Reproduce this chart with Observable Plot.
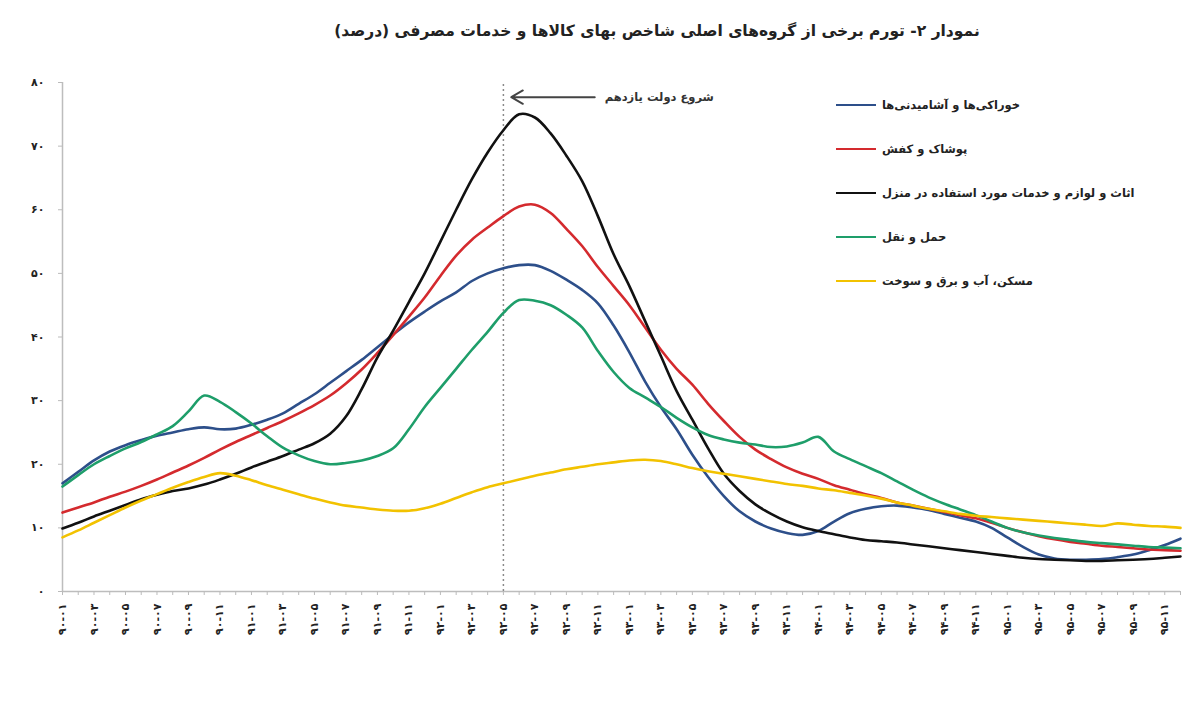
<!DOCTYPE html>
<html>
<head>
<meta charset="utf-8">
<script src="https://cdn.jsdelivr.net/npm/d3@7"></script>
<script src="https://cdn.jsdelivr.net/npm/@observablehq/plot@0.6"></script>
<style>
  html, body { margin: 0; padding: 0; background: #fff; }
  body { width: 1200px; height: 720px; position: relative; overflow: hidden; font-family: "DejaVu Sans", sans-serif; }
  #title { height: 55px; line-height: 62px; text-align: center; font-weight: bold; font-size: 15.5px; color: #222; padding-left: 114px; box-sizing: border-box; }
  #legend { position: absolute; left: 836px; top: 94px; font-size: 11.5px; font-weight: bold; color: #222; }
  .row { display: flex; align-items: center; height: 22px; margin-bottom: 22px; }
  .sw { width: 40px; height: 0; border-top: 2.5px solid; margin-right: 6px; }
  svg text { font-family: "DejaVu Sans", sans-serif; }
</style>
</head>
<body>
<div id="title" dir="rtl">نمودار ۲- تورم برخی از گروه‌های اصلی شاخص بهای کالاها و خدمات مصرفی (درصد)</div>
<div id="chart"></div>
<div id="legend"></div>
<script>
// Tick labels every two months (year-month, Persian calendar)
const tickLabels = [
  "۹۰-۰۱","۹۰-۰۳","۹۰-۰۵","۹۰-۰۷","۹۰-۰۹","۹۰-۱۱",
  "۹۱-۰۱","۹۱-۰۳","۹۱-۰۵","۹۱-۰۷","۹۱-۰۹","۹۱-۱۱",
  "۹۲-۰۱","۹۲-۰۳","۹۲-۰۵","۹۲-۰۷","۹۲-۰۹","۹۲-۱۱",
  "۹۳-۰۱","۹۳-۰۳","۹۳-۰۵","۹۳-۰۷","۹۳-۰۹","۹۳-۱۱",
  "۹۴-۰۱","۹۴-۰۳","۹۴-۰۵","۹۴-۰۷","۹۴-۰۹","۹۴-۱۱",
  "۹۵-۰۱","۹۵-۰۳","۹۵-۰۵","۹۵-۰۷","۹۵-۰۹","۹۵-۱۱"
];
const yTicks = [0, 10, 20, 30, 40, 50, 60, 70, 80];

const seriesNames = [
  "خوراکی‌ها و آشامیدنی‌ها",
  "پوشاک و کفش",
  "اثاث و لوازم و خدمات مورد استفاده در منزل",
  "حمل و نقل",
  "مسکن، آب و برق و سوخت"
];
const seriesColors = ["#2d4f8a", "#d42a2e", "#111111", "#1e9e6a", "#f2c200"];

// Monthly values, 90-01 .. 95-12 (72 months)
const food = [
  17.0,18.8,20.6,22.0,23.0,23.8,24.5,25.0,25.5,25.8,25.5,25.6,
  26.2,27.0,28.0,29.5,31.0,32.8,34.6,36.4,38.4,40.4,42.3,44.0,
  45.6,47.0,48.8,50.0,50.8,51.3,51.3,50.4,49.0,47.4,45.3,41.8,
  37.6,33.0,29.0,25.5,21.5,18.0,15.0,12.6,11.0,9.9,9.2,8.9,
  9.5,11.0,12.3,13.0,13.4,13.5,13.2,12.8,12.2,11.6,11.0,10.0,
  8.5,7.0,5.8,5.2,5.0,5.0,5.1,5.4,5.8,6.5,7.3,8.3
];
const clothing = [
  12.4,13.2,14.0,14.9,15.7,16.6,17.6,18.7,19.8,21.0,22.3,23.5,
  24.6,25.7,26.8,28.0,29.3,30.8,32.7,34.9,37.5,40.3,43.2,46.2,
  49.6,52.8,55.3,57.2,59.0,60.5,60.8,59.5,57.0,54.3,51.0,48.0,
  45.0,41.5,38.0,35.0,32.5,29.5,26.8,24.3,22.3,20.8,19.5,18.5,
  17.7,16.7,16.0,15.3,14.7,14.0,13.5,13.0,12.5,12.0,11.5,10.8,
  10.0,9.3,8.7,8.2,7.8,7.5,7.2,7.0,6.8,6.6,6.5,6.4
];
const household = [
  9.9,10.8,11.8,12.7,13.6,14.5,15.2,15.8,16.2,16.8,17.6,18.5,
  19.5,20.4,21.3,22.3,23.3,24.8,27.5,31.8,36.8,41.0,45.5,50.0,
  55.0,60.0,64.8,69.0,72.5,75.0,74.5,72.0,68.5,64.5,59.0,53.0,
  48.0,42.5,37.0,31.5,27.0,22.5,18.5,15.8,13.7,12.2,11.0,10.1,
  9.5,9.0,8.5,8.1,7.9,7.7,7.4,7.1,6.8,6.5,6.2,5.9,
  5.6,5.3,5.1,5.0,4.9,4.8,4.8,4.9,5.0,5.1,5.3,5.5
];
const transport = [
  16.5,18.3,20.0,21.3,22.5,23.5,24.7,26.0,28.3,30.8,29.8,28.2,
  26.4,24.4,22.6,21.4,20.5,20.0,20.2,20.6,21.3,22.5,25.5,29.0,
  32.0,35.0,38.0,40.8,43.8,45.8,45.7,45.0,43.5,41.5,37.8,34.5,
  32.0,30.5,29.0,27.3,25.8,24.6,23.9,23.4,23.1,22.7,22.8,23.4,
  24.3,22.0,20.8,19.7,18.6,17.3,16.0,14.8,13.8,12.9,12.0,11.0,
  10.0,9.3,8.8,8.4,8.1,7.8,7.6,7.4,7.2,7.0,6.9,6.8
];
const housing = [
  8.5,9.6,10.8,12.0,13.2,14.3,15.3,16.3,17.2,18.0,18.6,18.2,
  17.5,16.7,16.0,15.3,14.6,14.0,13.5,13.2,12.9,12.7,12.7,13.1,
  13.8,14.7,15.6,16.4,17.0,17.6,18.2,18.7,19.2,19.6,20.0,20.3,
  20.6,20.7,20.5,20.0,19.4,18.9,18.5,18.1,17.7,17.3,16.9,16.6,
  16.2,15.9,15.5,15.1,14.6,14.0,13.5,13.0,12.6,12.2,11.9,11.7,
  11.5,11.3,11.1,10.9,10.7,10.5,10.3,10.7,10.5,10.3,10.2,10.0
];

// Annotation: start of the 11th government (month 92-05)
const govStartIndex = 28;
const annotationText = "شروع دولت یازدهم";
const annotationArrow = {x1: 33.8, x2: 28.5, y: 77.7};

const allSeries = [food, clothing, household, transport, housing];
const rows = allSeries.flatMap((vals, s) => vals.map((v, i) => ({i, v, s: seriesNames[s]})));

const fa = n => String(n).replace(/\d/g, d => "۰۱۲۳۴۵۶۷۸۹"[d]);

const plot = Plot.plot({
  width: 1200,
  height: 665,
  marginLeft: 62,
  marginRight: 20,
  marginTop: 27,
  marginBottom: 129,
  style: {fontFamily: "DejaVu Sans, sans-serif", fontSize: "11px", color: "#222", background: "#fff"},
  x: {domain: [0, 71]},
  y: {domain: [0, 80]},
  color: {domain: seriesNames, range: seriesColors},
  marks: [
    Plot.ruleY([0], {stroke: "#bdbdbd", strokeWidth: 1.5}),
    Plot.ruleX([0], {stroke: "#bdbdbd", strokeWidth: 1.5}),
    Plot.axisX(d3.range(72), {tickSize: 4, text: null, stroke: "#bbb"}),
    Plot.axisX({
      ticks: d3.range(0, 72, 2),
      tickFormat: i => tickLabels[i / 2],
      tickRotate: -90,
      tickSize: 0,
      tickPadding: 12,
      fontWeight: "bold",
      fontSize: 11,
      label: null
    }),
    Plot.axisY({
      ticks: yTicks,
      tickFormat: fa,
      tickSize: 4,
      tickPadding: 14,
      stroke: "#bbb",
      fontWeight: "bold",
      fontSize: 11,
      label: null
    }),
    Plot.ruleX([govStartIndex], {stroke: "#8a8a8a", strokeWidth: 1.5, strokeDasharray: "2,3", y1: 0, y2: 80}),
    Plot.line(rows, {x: "i", y: "v", z: "s", stroke: "s", strokeWidth: 2.6, curve: "catmull-rom"}),
    Plot.arrow([annotationArrow], {x1: "x1", x2: "x2", y1: "y", y2: "y", stroke: "#444", strokeWidth: 2, headLength: 10}),
    Plot.text([annotationArrow], {x: "x1", y: "y", text: () => annotationText, textAnchor: "start", dx: 10, fontSize: 11.5, fontWeight: "bold", fill: "#333"})
  ]
});
document.getElementById("chart").appendChild(plot);

const legend = document.getElementById("legend");
seriesNames.forEach((n, k) => {
  const r = document.createElement("div");
  r.className = "row";
  const sw = document.createElement("div");
  sw.className = "sw";
  sw.style.borderTopColor = seriesColors[k];
  const t = document.createElement("span");
  t.dir = "rtl";
  t.textContent = n;
  r.appendChild(sw); r.appendChild(t);
  legend.appendChild(r);
});
</script>
</body>
</html>
